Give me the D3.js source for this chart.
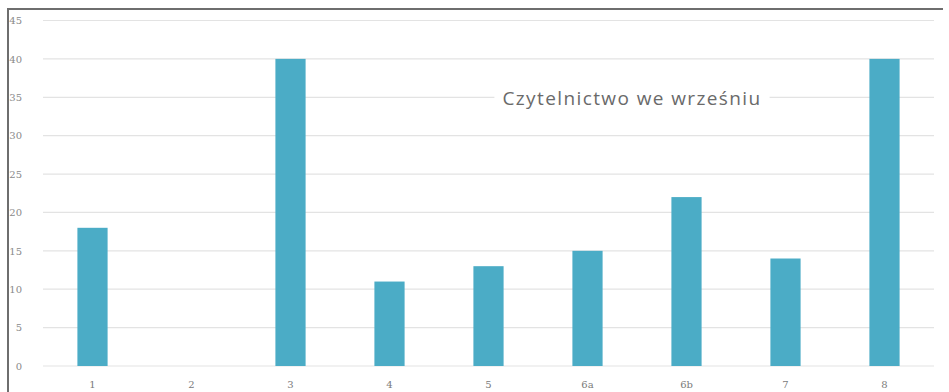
<!DOCTYPE html>
<html>
<head>
<meta charset="utf-8">
<script src="https://cdn.jsdelivr.net/npm/d3@7"></script>
<style>
  html, body { margin: 0; padding: 0; background: #fff; }
  svg { display: block; }
</style>
</head>
<body>
<svg id="chart" width="949" height="392"></svg>
<script>
// Reading counts per class in September
const classes = ["1", "2", "3", "4", "5", "6a", "6b", "7", "8"];
const readers = [18, 0, 40, 11, 13, 15, 22, 14, 40];
const yTicks = [0, 5, 10, 15, 20, 25, 30, 35, 40, 45];
const chartTitle = "Czytelnictwo we wrześniu";

const svg = d3.select("#chart");
const W = 949, H = 392;
const margin = { top: 20.5, right: 15, bottom: 26, left: 43 };
const plotW = W - margin.left - margin.right;
const plotH = H - margin.top - margin.bottom;

// Frame around the chart area (top and left edges visible)
svg.append("path")
  .attr("d", `M8,${H} L8,9 L943,9`)
  .attr("fill", "none")
  .attr("stroke", "#6e6e6e")
  .attr("stroke-width", 2);

const g = svg.append("g").attr("transform", `translate(${margin.left},${margin.top})`);

const x = d3.scaleBand().domain(classes).range([0, plotW]).paddingInner(0.695).paddingOuter(0.3475);
const y = d3.scaleLinear().domain([0, 45]).range([plotH, 0]);

// Horizontal gridlines
g.append("g")
  .selectAll("line")
  .data(yTicks)
  .join("line")
  .attr("x1", 0).attr("x2", plotW)
  .attr("y1", d => y(d)).attr("y2", d => y(d))
  .attr("stroke", "#e3e3e3")
  .attr("stroke-width", 1.2);

// Y axis labels
const yAxis = d3.axisLeft(y).tickValues(yTicks).tickSize(0).tickPadding(21);
g.append("g").call(yAxis)
  .call(s => s.select(".domain").remove())
  .selectAll("text")
  .attr("fill", "#8a8a8a")
  .attr("font-family", "'DejaVu Serif', serif")
  .attr("font-size", 10);

// X axis labels
const xAxis = d3.axisBottom(x).tickSize(0).tickPadding(15);
g.append("g").attr("transform", `translate(0,${plotH})`).call(xAxis)
  .call(s => s.select(".domain").remove())
  .selectAll("text")
  .attr("fill", "#7a7a7a")
  .attr("font-family", "'DejaVu Serif', serif")
  .attr("font-size", 10);

// Bars
g.append("g")
  .selectAll("rect")
  .data(classes.map((c, i) => ({ c, v: readers[i] })))
  .join("rect")
  .attr("x", d => x(d.c))
  .attr("width", x.bandwidth())
  .attr("y", d => y(d.v))
  .attr("height", d => plotH - y(d.v))
  .attr("fill", "#4bacc6");

// Title inside the plot, over a white box that hides the gridline beneath
const titleG = svg.append("g");
const titleBox = titleG.append("rect").attr("fill", "#fff");
const title = titleG.append("text")
  .attr("x", 632).attr("y", 98)
  .attr("text-anchor", "middle")
  .attr("dominant-baseline", "central")
  .attr("font-family", "'Open Sans', sans-serif")
  .attr("font-size", 19)
  .attr("letter-spacing", 1.4)
  .attr("fill", "#6a6a6a")
  .text(chartTitle);
const bb = title.node().getBBox();
titleBox
  .attr("x", bb.x - 8).attr("y", bb.y - 2)
  .attr("width", bb.width + 16).attr("height", bb.height + 4);
</script>
</body>
</html>
